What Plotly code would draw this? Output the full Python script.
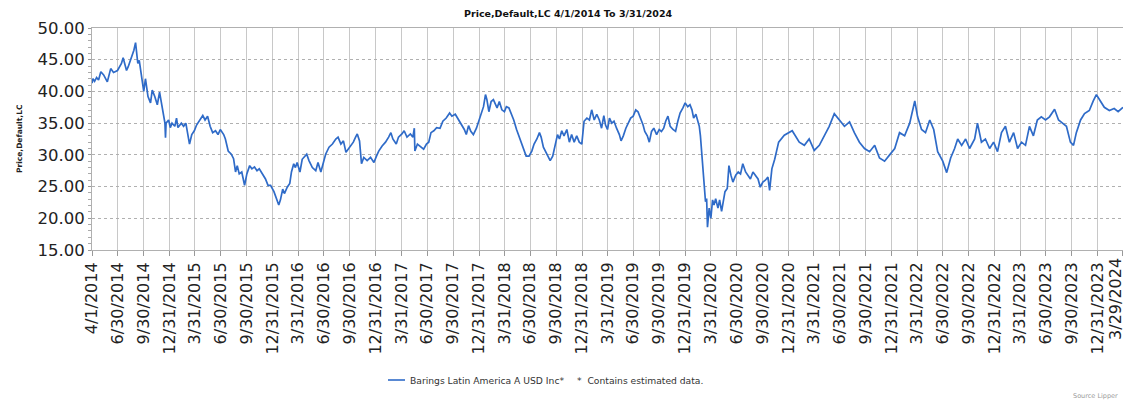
import plotly.graph_objects as go
import pandas as pd

title_text = "Price,Default,LC 4/1/2014 To 3/31/2024"
y_title = "Price,Default,LC"
series_name = "Barings Latin America A USD Inc*"
note_text = "*  Contains estimated data."
source_text = "Source Lipper"

dates = [
    "2014-04-01", "2014-04-04", "2014-04-10", "2014-04-17", "2014-04-24", "2014-05-02", "2014-05-12", "2014-05-25",
    "2014-06-06", "2014-06-16", "2014-06-30", "2014-07-14", "2014-07-20", "2014-08-01", "2014-08-07", "2014-08-19",
    "2014-08-27", "2014-09-02", "2014-09-10", "2014-09-15", "2014-09-25", "2014-10-01", "2014-10-07", "2014-10-16",
    "2014-10-25", "2014-10-31", "2014-11-09", "2014-11-18", "2014-11-26", "2014-12-03", "2014-12-08", "2014-12-15",
    "2014-12-17", "2014-12-19", "2014-12-28", "2015-01-03", "2015-01-09", "2015-01-19", "2015-01-25", "2015-01-30",
    "2015-02-11", "2015-02-19", "2015-02-27", "2015-03-06", "2015-03-12", "2015-03-20", "2015-03-29", "2015-04-06",
    "2015-04-18", "2015-04-28", "2015-05-06", "2015-05-15", "2015-05-24", "2015-06-02", "2015-06-12", "2015-06-21",
    "2015-06-29", "2015-07-11", "2015-07-17", "2015-07-27", "2015-08-07", "2015-08-15", "2015-08-22", "2015-08-28",
    "2015-09-04", "2015-09-13", "2015-09-23", "2015-10-01", "2015-10-11", "2015-10-19", "2015-10-28", "2015-11-06",
    "2015-11-14", "2015-11-24", "2015-12-06", "2015-12-15", "2015-12-24", "2016-01-05", "2016-01-14", "2016-01-22",
    "2016-01-28", "2016-02-05", "2016-02-11", "2016-02-21", "2016-03-01", "2016-03-07", "2016-03-15", "2016-03-21",
    "2016-03-27", "2016-04-06", "2016-04-14", "2016-04-24", "2016-04-30", "2016-05-08", "2016-05-20", "2016-06-01",
    "2016-06-09", "2016-06-19", "2016-06-28", "2016-07-06", "2016-07-18", "2016-07-30", "2016-08-11", "2016-08-19",
    "2016-08-29", "2016-09-07", "2016-09-16", "2016-09-24", "2016-10-03", "2016-10-12", "2016-10-20", "2016-10-26",
    "2016-11-03", "2016-11-10", "2016-11-18", "2016-11-30", "2016-12-12", "2016-12-24", "2017-01-02", "2017-01-10",
    "2017-01-22", "2017-02-03", "2017-02-14", "2017-02-22", "2017-03-01", "2017-03-13", "2017-03-21", "2017-04-02",
    "2017-04-10", "2017-04-20", "2017-05-02", "2017-05-11", "2017-05-16", "2017-05-18", "2017-05-27", "2017-06-06",
    "2017-06-18", "2017-06-28", "2017-07-06", "2017-07-14", "2017-07-24", "2017-08-03", "2017-08-15", "2017-08-25",
    "2017-09-06", "2017-09-18", "2017-09-26", "2017-10-08", "2017-10-20", "2017-11-01", "2017-11-09", "2017-11-16",
    "2017-11-24", "2017-12-02", "2017-12-11", "2017-12-22", "2017-12-31", "2018-01-08", "2018-01-16", "2018-01-23",
    "2018-01-28", "2018-02-04", "2018-02-12", "2018-02-20", "2018-03-05", "2018-03-13", "2018-03-22", "2018-03-31",
    "2018-04-07", "2018-04-16", "2018-04-24", "2018-05-03", "2018-05-13", "2018-05-21", "2018-05-29", "2018-06-07",
    "2018-06-16", "2018-06-26", "2018-07-06", "2018-07-14", "2018-07-24", "2018-08-02", "2018-08-08", "2018-08-16",
    "2018-08-26", "2018-09-03", "2018-09-09", "2018-09-18", "2018-09-26", "2018-10-05", "2018-10-12", "2018-10-20",
    "2018-10-28", "2018-11-07", "2018-11-16", "2018-11-24", "2018-12-03", "2018-12-12", "2018-12-21", "2018-12-30",
    "2019-01-07", "2019-01-17", "2019-01-26", "2019-02-03", "2019-02-12", "2019-02-21", "2019-03-02", "2019-03-10",
    "2019-03-18", "2019-03-24", "2019-03-31", "2019-04-07", "2019-04-15", "2019-04-23", "2019-05-02", "2019-05-12",
    "2019-05-18", "2019-05-26", "2019-06-04", "2019-06-12", "2019-06-21", "2019-06-30", "2019-07-09", "2019-07-17",
    "2019-07-26", "2019-08-04", "2019-08-10", "2019-08-19", "2019-08-26", "2019-09-03", "2019-09-11", "2019-09-21",
    "2019-09-30", "2019-10-08", "2019-10-16", "2019-10-23", "2019-10-31", "2019-11-08", "2019-11-18", "2019-11-27",
    "2019-12-05", "2019-12-13", "2019-12-23", "2019-12-31", "2020-01-09", "2020-01-17", "2020-01-24", "2020-01-30",
    "2020-02-07", "2020-02-14", "2020-02-19", "2020-02-23", "2020-02-27", "2020-03-03", "2020-03-07", "2020-03-12",
    "2020-03-16", "2020-03-19", "2020-03-25", "2020-03-31", "2020-04-06", "2020-04-11", "2020-04-17", "2020-04-25",
    "2020-05-01", "2020-05-08", "2020-05-13", "2020-05-20", "2020-05-28", "2020-06-03", "2020-06-10", "2020-06-17",
    "2020-06-27", "2020-07-06", "2020-07-14", "2020-07-22", "2020-08-01", "2020-08-10", "2020-08-18", "2020-08-27",
    "2020-09-05", "2020-09-14", "2020-09-22", "2020-10-01", "2020-10-10", "2020-10-19", "2020-10-25", "2020-11-02",
    "2020-11-12", "2020-11-20", "2020-11-26", "2020-12-16", "2021-01-13", "2021-02-07", "2021-02-25", "2021-03-14",
    "2021-04-01", "2021-04-19", "2021-05-07", "2021-05-24", "2021-06-11", "2021-06-29", "2021-07-17", "2021-08-04",
    "2021-08-21", "2021-09-08", "2021-09-26", "2021-10-14", "2021-11-01", "2021-11-18", "2021-12-06", "2021-12-24",
    "2022-01-11", "2022-01-28", "2022-02-15", "2022-03-05", "2022-03-23", "2022-04-02", "2022-04-16", "2022-04-30",
    "2022-05-15", "2022-05-29", "2022-06-12", "2022-06-30", "2022-07-14", "2022-07-28", "2022-08-11", "2022-08-22",
    "2022-09-05", "2022-09-19", "2022-10-03", "2022-10-21", "2022-10-31", "2022-11-14", "2022-11-28", "2022-12-13",
    "2022-12-27", "2023-01-10", "2023-01-24", "2023-02-07", "2023-02-21", "2023-03-08", "2023-03-22", "2023-04-05",
    "2023-04-19", "2023-05-03", "2023-05-17", "2023-05-31", "2023-06-14", "2023-06-29", "2023-07-13", "2023-07-31",
    "2023-08-14", "2023-08-28", "2023-09-11", "2023-09-25", "2023-10-06", "2023-10-16", "2023-10-31", "2023-11-14",
    "2023-12-01", "2023-12-15", "2023-12-26", "2024-01-09", "2024-01-23", "2024-02-10", "2024-02-27", "2024-03-12",
    "2024-03-29",
]

prices = [
    41.3, 42.0, 41.6, 42.2, 41.8, 43.1, 42.6, 41.5,
    43.6, 43.0, 43.3, 44.4, 45.3, 43.3, 43.9, 45.4,
    46.5, 47.7, 44.4, 44.9, 41.8, 40.0, 42.0, 39.2,
    38.2, 40.2, 39.2, 37.9, 39.9, 38.1, 36.9, 35.0,
    32.7, 35.0, 35.5, 34.3, 35.0, 34.5, 35.8, 34.3,
    35.0, 34.5, 35.0, 33.0, 31.7, 33.2, 33.8, 34.7,
    35.5, 36.2, 35.5, 36.1, 34.5, 33.5, 33.8, 33.2,
    34.0, 33.2, 32.5, 30.6, 30.1, 29.4, 27.3, 28.3,
    27.0, 27.3, 25.2, 27.0, 28.3, 27.8, 28.1, 27.5,
    27.8, 27.0, 26.2, 25.2, 25.2, 24.2, 23.1, 22.1,
    22.9, 24.6, 23.9, 24.9, 25.5, 27.3, 28.6, 28.0,
    28.8, 27.3, 29.3, 29.8, 30.1, 29.1, 28.0, 27.5,
    28.8, 27.3, 28.8, 30.1, 31.2, 31.7, 32.5, 32.8,
    31.7, 32.2, 30.4, 30.9, 31.4, 32.0, 32.8, 33.3,
    32.2, 28.6, 29.6, 29.1, 29.6, 28.8, 29.8, 30.6,
    31.4, 32.0, 32.8, 33.5, 32.5, 31.7, 32.8, 33.3,
    33.8, 32.8, 33.3, 32.8, 34.2, 30.6, 31.7, 31.4,
    30.9, 31.7, 32.0, 33.5, 33.8, 34.3, 34.2, 35.3,
    35.8, 36.6, 36.1, 36.4, 35.5, 34.7, 34.0, 33.2,
    34.6, 33.7, 33.2, 34.2, 35.5, 36.4, 37.6, 39.5,
    38.7, 36.8, 38.4, 38.7, 37.4, 38.4, 37.1, 36.8,
    37.6, 37.4, 36.6, 35.5, 34.0, 33.0, 31.7, 30.9,
    29.8, 29.8, 30.6, 31.7, 32.5, 33.5, 32.8, 31.2,
    30.4, 29.8, 29.1, 29.8, 31.2, 33.2, 32.5, 33.8,
    33.0, 34.0, 32.0, 33.2, 32.0, 33.0, 32.0, 31.7,
    35.3, 35.8, 35.5, 37.1, 35.5, 36.4, 35.5, 34.2,
    36.2, 34.7, 34.0, 35.8, 35.0, 35.3, 34.2, 33.2,
    32.2, 33.0, 34.2, 35.0, 35.8, 36.1, 37.1, 36.8,
    35.8, 34.7, 33.7, 33.0, 32.0, 33.7, 34.2, 33.2,
    34.0, 33.7, 34.2, 35.3, 36.1, 34.5, 34.0, 33.7,
    35.3, 36.6, 37.4, 38.2, 37.6, 37.9, 37.1, 35.8,
    36.4, 35.5, 34.5, 33.0, 30.9, 27.8, 25.2, 22.6,
    23.1, 18.6, 21.6, 20.0, 22.9, 22.1, 23.1, 21.6,
    22.9, 21.1, 22.4, 24.2, 24.7, 28.3, 26.8, 25.7,
    26.8, 27.3, 27.0, 28.6, 27.3, 26.8, 26.2, 27.3,
    26.8, 26.2, 24.9, 25.7, 26.0, 26.5, 24.4, 27.8,
    29.3, 30.6, 32.0, 33.1, 33.8, 32.0, 31.5, 32.5,
    30.7, 31.5, 33.0, 34.5, 36.5, 35.5, 34.5, 35.2,
    33.5, 32.0, 31.0, 30.5, 31.5, 29.5, 29.0, 30.0,
    31.0, 33.5, 33.0, 35.0, 38.5, 36.0, 34.0, 33.5,
    35.5, 34.0, 30.5, 29.0, 27.2, 29.5, 31.0, 32.5,
    31.5, 32.5, 31.0, 32.5, 35.0, 32.0, 32.5, 31.0,
    32.0, 30.5, 33.5, 34.5, 32.0, 33.5, 31.0, 32.0,
    31.5, 34.5, 33.0, 35.5, 36.0, 35.5, 36.0, 37.2,
    35.5, 35.0, 34.5, 32.0, 31.5, 33.5, 35.5, 36.5,
    37.0, 38.5, 39.5, 38.5, 37.5, 37.0, 37.3, 36.8,
    37.5,
]

tick_labels = [
    "4/1/2014", "6/30/2014", "9/30/2014", "12/31/2014",
    "3/31/2015", "6/30/2015", "9/30/2015", "12/31/2015",
    "3/31/2016", "6/30/2016", "9/30/2016", "12/31/2016",
    "3/31/2017", "6/30/2017", "9/30/2017", "12/31/2017",
    "3/31/2018", "6/30/2018", "9/30/2018", "12/31/2018",
    "3/31/2019", "6/30/2019", "9/30/2019", "12/31/2019",
    "3/31/2020", "6/30/2020", "9/30/2020", "12/31/2020",
    "3/31/2021", "6/30/2021", "9/30/2021", "12/31/2021",
    "3/31/2022", "6/30/2022", "9/30/2022", "12/31/2022",
    "3/31/2023", "6/30/2023", "9/30/2023", "12/31/2023",
    "3/29/2024",
]

y_ticks = [15, 20, 25, 30, 35, 40, 45, 50]

LINE_COLOR = "#2F6BC8"
FONT = "DejaVu Sans"

tick_dates = pd.to_datetime(tick_labels, format="%m/%d/%Y")
x_range = [tick_dates[0] - pd.Timedelta(hours=6), tick_dates[-1] + pd.Timedelta(hours=6)]
# the last label sits on the page edge; it is drawn as an annotation so it is not clipped
tick_text = tick_labels[:-1] + [""]

fig = go.Figure()
fig.add_trace(go.Scatter(
    x=pd.to_datetime(dates), y=prices, mode="lines", name=series_name,
    line=dict(color=LINE_COLOR, width=1.7), showlegend=False,
))

# The page body adds an 8px margin, so the figure is drawn 8px smaller and
# every target page position is shifted by that offset.
OFF = 8
W, H = 1131 - OFF, 402 - OFF
# target plot area on page: x 92..1123, y 28..250
L, R, T, B = 92 - OFF, 1131 - 1123, 28 - OFF, 402 - 250
pw = W - L - R
ph = H - T - B

def px_x(px):
    return (px - OFF - L) / pw

def px_y(py):
    return (H - B - (py - OFF)) / ph

fig.update_layout(
    width=W, height=H,
    margin=dict(l=L, r=R, t=T, b=B),
    paper_bgcolor="white", plot_bgcolor="white",
    font=dict(family=FONT, color="#222222"),
    xaxis=dict(
        type="date", range=x_range,
        tickmode="array", tickvals=tick_dates, ticktext=tick_text,
        tickangle=-90, tickfont=dict(size=16, color="#222222"),
        showgrid=True, gridcolor="#c8c8c8", gridwidth=1,
        ticks="outside", ticklen=5, tickcolor="#999999",
        showline=True, linecolor="#b0b0b0", mirror=True,
        automargin=False, zeroline=False,
    ),
    yaxis=dict(
        range=[15, 50], tickmode="array", tickvals=y_ticks, tickformat=".2f",
        tickfont=dict(size=16.5, color="#222222"),
        showgrid=True, gridcolor="#b0b0b0", griddash="dot", gridwidth=1,
        ticks="outside", ticklen=3, tickcolor="#999999",
        minor=dict(dtick=1, ticks="outside", ticklen=3, tickcolor="#aaaaaa", showgrid=False),
        showline=True, linecolor="#b0b0b0", mirror=True,
        automargin=False, zeroline=False,
    ),
)

fig.add_annotation(text=tick_labels[-1], textangle=-90, xref="x", yref="paper",
                   x=tick_dates[-1], y=px_y(257), xanchor="center", yanchor="top",
                   xshift=-8, showarrow=False, borderpad=0,
                   font=dict(size=16, color="#222222", family=FONT))

fig.add_annotation(text=f"<b>{title_text}</b>", xref="paper", yref="paper",
                   x=px_x(568), y=px_y(13), xanchor="center", yanchor="middle", showarrow=False,
                   font=dict(size=9.5, color="#111111", family=FONT))

fig.add_annotation(text=f"<b>{y_title}</b>", textangle=-90, xref="paper", yref="paper",
                   x=px_x(19), y=0.5, xanchor="center", yanchor="middle", showarrow=False,
                   font=dict(size=7.5, color="#222222", family=FONT))

leg_y = px_y(380)
fig.add_shape(type="line", xref="paper", yref="paper", x0=px_x(388), x1=px_x(405),
              y0=leg_y, y1=leg_y, line=dict(color=LINE_COLOR, width=1.6))
fig.add_annotation(text=series_name, xref="paper", yref="paper", x=px_x(408), y=leg_y,
                   xanchor="left", yanchor="middle", showarrow=False,
                   font=dict(size=9.2, color="#333333", family=FONT))
fig.add_annotation(text=note_text, xref="paper", yref="paper", x=px_x(575), y=leg_y,
                   xanchor="left", yanchor="middle", showarrow=False,
                   font=dict(size=9.2, color="#333333", family=FONT))
fig.add_annotation(text=source_text, xref="paper", yref="paper", x=px_x(1120), y=px_y(396),
                   xanchor="right", yanchor="middle", showarrow=False,
                   font=dict(size=6.5, color="#999999", family=FONT))

fig.write_html("out.html")
